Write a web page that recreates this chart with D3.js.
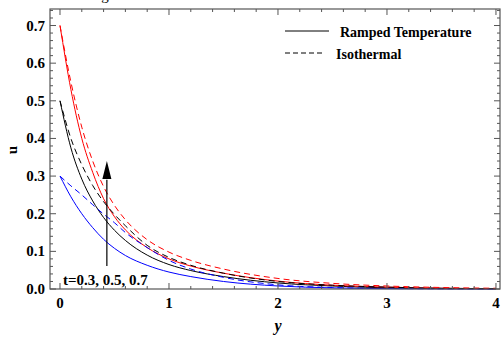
<!DOCTYPE html>
<html>
<head>
<meta charset="utf-8">
<script src="https://cdn.jsdelivr.net/npm/d3@7"></script>
<style>
  body { margin: 0; background: #fff; }
  svg { display: block; }
  text { font-family: "Liberation Serif", "Times New Roman", serif; }
</style>
</head>
<body>
<div id="chart"></div>
<script>
/* DATA */
const yGrid = [0, 0.1, 0.2, 0.3, 0.4, 0.5, 0.6, 0.8, 1.0, 1.2, 1.5, 2.0, 2.5, 3.0, 3.5, 4.0];

// ramped temperature (solid)
const rampedT03 = [0.30, 0.245, 0.200, 0.163, 0.132, 0.108, 0.089, 0.063, 0.045, 0.033, 0.020, 0.008, 0.003, 0.001, 0.0005, 0.0002];
const rampedT05 = [0.50, 0.375, 0.292, 0.234, 0.190, 0.156, 0.129, 0.090, 0.065, 0.049, 0.033, 0.016, 0.008, 0.003, 0.001, 0.0005];
const rampedT07 = [0.70, 0.530, 0.400, 0.310, 0.240, 0.192, 0.157, 0.110, 0.080, 0.061, 0.042, 0.021, 0.010, 0.005, 0.002, 0.001];

// isothermal (dashed)
const isoT03 = [0.30, 0.274, 0.250, 0.224, 0.199, 0.176, 0.150, 0.110, 0.076, 0.053, 0.031, 0.011, 0.004, 0.0015, 0.0006, 0.0002];
const isoT05 = [0.50, 0.400, 0.330, 0.275, 0.232, 0.198, 0.168, 0.116, 0.084, 0.063, 0.042, 0.020, 0.010, 0.005, 0.002, 0.001];
const isoT07 = [0.70, 0.550, 0.430, 0.340, 0.272, 0.222, 0.184, 0.131, 0.098, 0.076, 0.053, 0.028, 0.015, 0.008, 0.004, 0.002];

const xTicks = [0, 1, 2, 3, 4];
const yTicks = [0.0, 0.1, 0.2, 0.3, 0.4, 0.5, 0.6, 0.7];

const series = [
  { name: "ramped 0.3", values: rampedT03, color: "#0000ff", dashed: false },
  { name: "ramped 0.5", values: rampedT05, color: "#000000", dashed: false },
  { name: "ramped 0.7", values: rampedT07, color: "#ff0000", dashed: false },
  { name: "iso 0.3", values: isoT03, color: "#0000ff", dashed: true },
  { name: "iso 0.5", values: isoT05, color: "#000000", dashed: true },
  { name: "iso 0.7", values: isoT07, color: "#ff0000", dashed: true }
];

/* LAYOUT */
const W = 502, H = 340;
const frame = { left: 50, right: 500, top: 9, bottom: 289 };

const svg = d3.select("#chart").append("svg")
  .attr("width", W)
  .attr("height", H);

// scales: 0 -> 60px, 4 -> 496px ; u 0 -> 289px, 0.7 -> 25.5px
const x = d3.scaleLinear().domain([-0.0917, 4.037]).range([frame.left, frame.right]);
const y = d3.scaleLinear().domain([0, 0.7439]).range([frame.bottom, frame.top]);

// clipped title remnant at very top (cut off in the original too)
svg.append("text")
  .attr("x", 105).attr("y", 0)
  .attr("text-anchor", "middle")
  .attr("font-size", 15)
  .text("g");

/* CURVES */
const line = d3.line()
  .x((d, i) => x(yGrid[i]))
  .y(d => y(d))
  .curve(d3.curveMonotoneX);

svg.append("g")
  .selectAll("path")
  .data(series)
  .join("path")
  .attr("d", d => line(d.values))
  .attr("fill", "none")
  .attr("stroke", d => d.color)
  .attr("stroke-width", 1)
  .attr("stroke-dasharray", d => d.dashed ? "6,4" : null);

/* FRAME + TICKS (Mathematica style, inward, all sides) */
const frameColor = "#555";
svg.append("rect")
  .attr("x", frame.left).attr("y", frame.top)
  .attr("width", frame.right - frame.left)
  .attr("height", frame.bottom - frame.top)
  .attr("fill", "none")
  .attr("stroke", frameColor)
  .attr("stroke-width", 1.2);

const xMinor = d3.range(0, 4.001, 0.2).filter(v => Math.abs(v - Math.round(v)) > 1e-6);
const yMinor = d3.range(0, 0.7401, 0.02).filter(v => Math.abs(v * 10 - Math.round(v * 10)) > 1e-6);

const tickG = svg.append("g").attr("stroke", frameColor).attr("stroke-width", 1);

// bottom + top
[[xTicks, 6], [xMinor, 3]].forEach(([vals, len]) => {
  tickG.selectAll(null).data(vals).join("line")
    .attr("x1", d => x(d)).attr("x2", d => x(d))
    .attr("y1", frame.bottom).attr("y2", frame.bottom - len);
  tickG.selectAll(null).data(vals).join("line")
    .attr("x1", d => x(d)).attr("x2", d => x(d))
    .attr("y1", frame.top).attr("y2", frame.top + len);
});
// left + right
[[yTicks, 6], [yMinor, 3]].forEach(([vals, len]) => {
  tickG.selectAll(null).data(vals).join("line")
    .attr("y1", d => y(d)).attr("y2", d => y(d))
    .attr("x1", frame.left).attr("x2", frame.left + len);
  tickG.selectAll(null).data(vals).join("line")
    .attr("y1", d => y(d)).attr("y2", d => y(d))
    .attr("x1", frame.right).attr("x2", frame.right - len);
});

// tick labels
svg.append("g").selectAll("text").data(xTicks).join("text")
  .attr("x", d => x(d)).attr("y", 308)
  .attr("text-anchor", "middle")
  .attr("font-size", 15).attr("font-weight", "bold")
  .text(d => d);

svg.append("g").selectAll("text").data(yTicks).join("text")
  .attr("x", 45).attr("y", d => y(d) + 5)
  .attr("text-anchor", "end")
  .attr("font-size", 15).attr("font-weight", "bold")
  .text(d => d.toFixed(1));

// axis titles
svg.append("text")
  .attr("transform", "translate(17,150) rotate(-90)")
  .attr("text-anchor", "middle")
  .attr("font-size", 15).attr("font-weight", "bold")
  .text("u");

svg.append("text")
  .attr("x", x(2)).attr("y", 331)
  .attr("text-anchor", "middle")
  .attr("font-size", 16).attr("font-weight", "bold").attr("font-style", "italic")
  .text("y");

/* ARROW + annotation */
const arrowAt = 0.43;
svg.append("line")
  .attr("x1", x(arrowAt)).attr("x2", x(arrowAt))
  .attr("y1", y(0.061)).attr("y2", y(0.29))
  .attr("stroke", "#000").attr("stroke-width", 1.2);
svg.append("path")
  .attr("d", `M${x(arrowAt)},${y(0.34)} L${x(arrowAt) - 4.5},${y(0.292)} L${x(arrowAt) + 4.5},${y(0.292)} Z`)
  .attr("fill", "#000");

svg.append("text")
  .attr("x", 63).attr("y", 285)
  .attr("font-size", 15).attr("font-weight", "bold")
  .text("t=0.3, 0.5, 0.7");

/* LEGEND */
const legend = svg.append("g");
legend.append("line")
  .attr("x1", 285).attr("x2", 329).attr("y1", 31).attr("y2", 31)
  .attr("stroke", "#000").attr("stroke-width", 1);
legend.append("text")
  .attr("x", 340).attr("y", 37)
  .attr("font-size", 14).attr("font-weight", "bold")
  .text("Ramped Temperature");
legend.append("line")
  .attr("x1", 285).attr("x2", 325).attr("y1", 53).attr("y2", 53)
  .attr("stroke", "#000").attr("stroke-width", 1)
  .attr("stroke-dasharray", "5,3");
legend.append("text")
  .attr("x", 336).attr("y", 59)
  .attr("font-size", 14).attr("font-weight", "bold")
  .text("Isothermal");
</script>
</body>
</html>
